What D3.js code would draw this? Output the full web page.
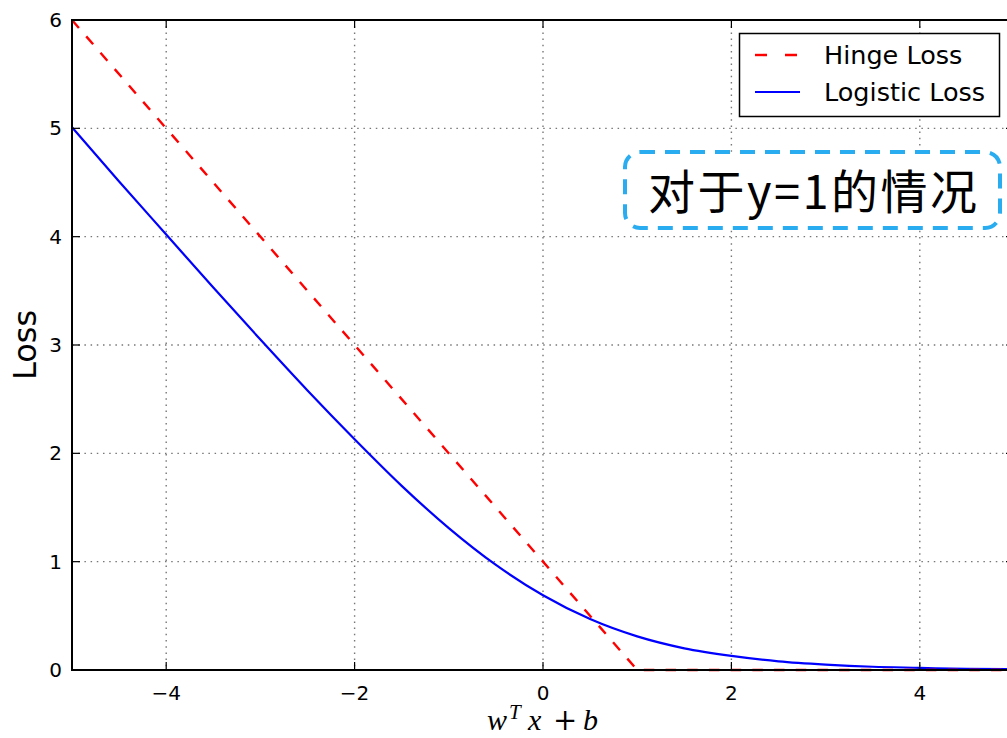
<!DOCTYPE html>
<html lang="en">
<head>
<meta charset="utf-8">
<title>Hinge vs Logistic Loss</title>
<script src="https://d3js.org/d3.v7.min.js"></script>
<style>
  body { margin: 0; background: #fff; }
  svg { display: block; }
</style>
</head>
<body>
<script>
// values
var xTicks = [-4, -2, 0, 2, 4];
var yTicks = [0, 1, 2, 3, 4, 5, 6];
var hingeX = [-5, 1, 5];
var hingeY = [6, 0, 0];
var logX = [-5, -4.5, -4, -3.5, -3, -2.5, -2, -1.5, -1, -0.5, 0, 0.5, 1, 1.5, 2, 2.5, 3, 3.5, 4, 4.5, 5];
var logY = [5.01, 4.51, 4.02, 3.53, 3.05, 2.58, 2.13, 1.70, 1.31, 0.97, 0.69, 0.47, 0.31, 0.20, 0.13, 0.08, 0.05, 0.03, 0.02, 0.01, 0.007];
var seriesNames = ["Hinge Loss", "Logistic Loss"];
var noteText = "对于y=1的情况";

var W = 1007, H = 738;
var pL = 72, pT = 20, pR = 1014, pB = 670;

var svg = d3.select("body").append("svg")
    .attr("width", W)
    .attr("height", H);

var x = d3.scaleLinear().domain([-5, 5]).range([pL, pR]);
var y = d3.scaleLinear().domain([0, 6]).range([pB, pT]);

var font = "'DejaVu Sans', sans-serif";

// grid
var grid = svg.append("g");
grid.selectAll(".gx").data(xTicks).enter().append("line")
    .attr("x1", function(d) { return x(d); })
    .attr("x2", function(d) { return x(d); })
    .attr("y1", pT).attr("y2", pB)
    .attr("stroke", "#777").attr("stroke-width", 1.4)
    .attr("stroke-dasharray", "1.5,4.7");
grid.selectAll(".gy").data(yTicks.slice(1, -1)).enter().append("line")
    .attr("y1", function(d) { return y(d); })
    .attr("y2", function(d) { return y(d); })
    .attr("x1", pL).attr("x2", pR)
    .attr("stroke", "#777").attr("stroke-width", 1.4)
    .attr("stroke-dasharray", "1.5,4.7");

// lines
var hinge = hingeX.map(function(d, i) { return [d, hingeY[i]]; });
var logistic = logX.map(function(d, i) { return [d, logY[i]]; });

var line = d3.line()
    .x(function(d) { return x(d[0]); })
    .y(function(d) { return y(d[1]); });

svg.append("path")
    .datum(logistic)
    .attr("d", d3.line()
        .x(function(d) { return x(d[0]); })
        .y(function(d) { return y(d[1]); })
        .curve(d3.curveMonotoneX))
    .attr("fill", "none")
    .attr("stroke", "#0000ff")
    .attr("stroke-width", 2.2);

svg.append("path")
    .datum(hinge)
    .attr("d", line)
    .attr("fill", "none")
    .attr("stroke", "#ff0000")
    .attr("stroke-width", 2.4)
    .attr("stroke-dasharray", "10.5,11.2");

// frame
svg.append("rect")
    .attr("x", pL).attr("y", pT)
    .attr("width", pR - pL).attr("height", pB - pT)
    .attr("fill", "none").attr("stroke", "#000").attr("stroke-width", 2);

// inward ticks
var tk = svg.append("g").attr("stroke", "#000").attr("stroke-width", 1.2);
xTicks.forEach(function(d) {
    tk.append("line").attr("x1", x(d)).attr("x2", x(d)).attr("y1", pB).attr("y2", pB - 8);
    tk.append("line").attr("x1", x(d)).attr("x2", x(d)).attr("y1", pT).attr("y2", pT + 8);
});
yTicks.forEach(function(d) {
    tk.append("line").attr("y1", y(d)).attr("y2", y(d)).attr("x1", pL).attr("x2", pL + 8);
    tk.append("line").attr("y1", y(d)).attr("y2", y(d)).attr("x1", pR).attr("x2", pR - 8);
});

// tick labels
var fmt = function(d) { return d < 0 ? "\u2212" + Math.abs(d) : String(d); };
svg.selectAll(".xl").data(xTicks).enter().append("text")
    .attr("x", function(d) { return x(d); })
    .attr("y", pB + 30)
    .attr("text-anchor", "middle")
    .attr("font-family", font).attr("font-size", 20)
    .text(fmt);
svg.selectAll(".yl").data(yTicks).enter().append("text")
    .attr("x", pL - 10)
    .attr("y", function(d) { return y(d) + 7; })
    .attr("text-anchor", "end")
    .attr("font-family", font).attr("font-size", 20)
    .text(fmt);

// axis labels
svg.append("text")
    .attr("transform", "translate(36," + ((pT + pB) / 2) + ") rotate(-90)")
    .attr("text-anchor", "middle")
    .attr("font-family", font).attr("font-size", 32)
    .text("Loss");

// x label: w^T x + b, laid out like mathtext
var xl = svg.append("text")
    .attr("y", 730)
    .attr("font-family", "'Liberation Serif', serif").attr("font-size", 30);
xl.append("tspan").attr("x", 487).attr("font-style", "italic").text("w");
xl.append("tspan").attr("x", 509).attr("y", 719).attr("font-style", "italic").attr("font-size", 21).text("T");
xl.append("tspan").attr("x", 528).attr("y", 730).attr("font-style", "italic").text("x");
xl.append("tspan").attr("x", 553).attr("font-family", "'DejaVu Serif', serif").attr("font-size", 29).text("+");
xl.append("tspan").attr("x", 583).attr("font-style", "italic").text("b");

// legend
var lg = svg.append("g");
lg.append("rect")
    .attr("x", 739.5).attr("y", 33.5).attr("width", 260).attr("height", 83)
    .attr("fill", "#fff").attr("stroke", "#000").attr("stroke-width", 1.5);
var lgY = [55, 92];
lg.append("line").attr("x1", 755).attr("x2", 800).attr("y1", lgY[0]).attr("y2", lgY[0])
    .attr("stroke", "#ff0000").attr("stroke-width", 2.4).attr("stroke-dasharray", "12,18");
lg.append("line").attr("x1", 755).attr("x2", 800).attr("y1", lgY[1]).attr("y2", lgY[1])
    .attr("stroke", "#0000ff").attr("stroke-width", 2.2);
lg.selectAll(".lt").data(seriesNames).enter().append("text")
    .attr("x", 824)
    .attr("y", function(d, i) { return lgY[i] + 9; })
    .attr("font-family", font).attr("font-size", 25.5)
    .text(function(d) { return d; });

// annotation box
svg.append("rect")
    .attr("x", 625).attr("y", 152).attr("width", 375).attr("height", 76)
    .attr("rx", 15).attr("ry", 15)
    .attr("fill", "#fff").attr("stroke", "#2aacf0").attr("stroke-width", 4)
    .attr("stroke-dasharray", "15,10");
svg.append("text")
    .attr("x", 648).attr("y", 209)
    .attr("font-family", "'Noto Sans CJK SC', sans-serif").attr("font-size", 47)
    .attr("textLength", 329).attr("lengthAdjust", "spacing")
    .text(noteText);
</script>
</body>
</html>
